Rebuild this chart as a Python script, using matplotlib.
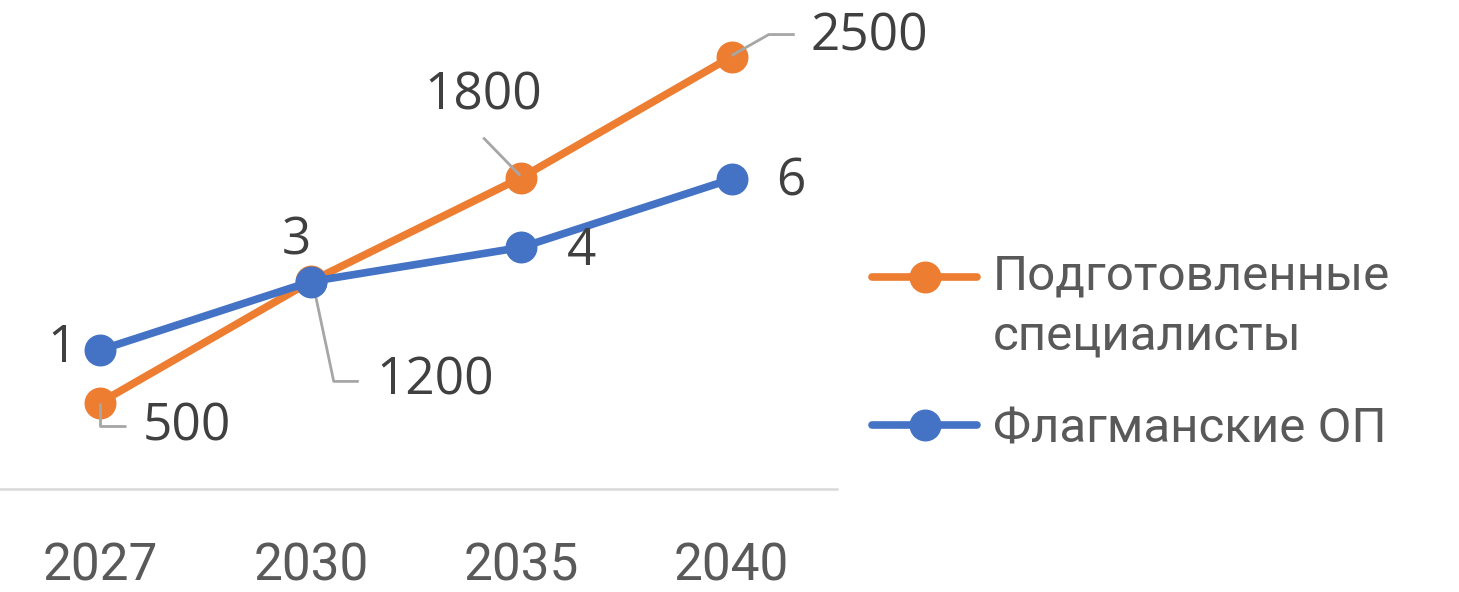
import numpy as np
import matplotlib
matplotlib.use("Agg")
import matplotlib.pyplot as plt
import matplotlib.transforms as mtransforms
from matplotlib.legend_handler import HandlerLine2D
from matplotlib.lines import Line2D

years = ["2027", "2030", "2035", "2040"]
specialists = [500, 1200, 1800, 2500]
flagships = [1, 3, 4, 6]
series_names = ["Подготовленные\nспециалисты", "Флагманские ОП"]

ORANGE = "#ED7D31"
BLUE = "#4472C4"
LABEL = "#404040"
TICK = "#595959"
LEADER = "#A6A6A6"

W, H, DPI = 1459, 592, 100


class FirstLineHandler(HandlerLine2D):
    """Legend handle aligned with the first line of a multi-line label."""

    def __init__(self, shift=0.0, **kw):
        super().__init__(**kw)
        self.shift = shift

    def create_artists(self, legend, orig_handle, xdescent, ydescent,
                       width, height, fontsize, trans):
        arts = super().create_artists(legend, orig_handle, xdescent, ydescent,
                                      width, height, fontsize, trans)
        for a in arts:
            a.set_ydata(np.asarray(a.get_ydata()) + self.shift)
        return arts


fig = plt.figure(figsize=(W / DPI, H / DPI), dpi=DPI)

# axes box in pixels
x0, x1 = -5, 837
y_bot, y_top = 489, 10
ax = fig.add_axes([x0 / W, (H - y_bot) / H, (x1 - x0) / W, (y_bot - y_top) / H])
ax2 = ax.twinx()

x = np.arange(len(years))
ax.set_xlim(-0.5, len(years) - 0.5)
ax.set_ylim(0, 2769)
ax2.set_ylim(-3.064, 10.94)

l1, = ax.plot(x, specialists, color=ORANGE, lw=5.5, marker="o", ms=22,
              solid_capstyle="round", label=series_names[0], zorder=3)
l2, = ax2.plot(x, flagships, color=BLUE, lw=5.5, marker="o", ms=22,
               solid_capstyle="round", label=series_names[1], zorder=3)

for a in (ax, ax2):
    for s in a.spines.values():
        s.set_visible(False)
    a.set_yticks([])
    a.patch.set_visible(False)
ax.spines["bottom"].set_visible(True)
ax.spines["bottom"].set_color("#D9D9D9")
ax.spines["bottom"].set_linewidth(1.8)

ax.set_xticks(x, years)
ax.tick_params(axis="x", length=0, pad=38, labelsize=37, labelcolor=TICK)
for t in ax.get_xticklabels():
    t.set_fontfamily("Roboto")
ax2.tick_params(axis="x", length=0)


def px_trans(axes, xv, yv):
    """Transform whose units are pixel offsets from a data point."""
    return mtransforms.Affine2D() + mtransforms.ScaledTranslation(xv, yv, axes.transData)


label_font = dict(fontfamily="Open Sans", fontsize=37, color=LABEL)

# orange labels: text offset and leader polyline (pixel offsets, y up)
orange_layout = [
    ((87, -24), [(0, 0), (0, -23), (26, -23)]),
    ((124, -100), [(2, -1), (23, -100), (48, -100)]),
    ((-38, 82), [(-1, 2), (-38, 40)]),
    ((138, 20), [(0, 1), (37, 22), (63, 22)]),
]
for xi, val, ((dx, dy), leader) in zip(x, specialists, orange_layout):
    tr = px_trans(ax, xi, val)
    lx, ly = zip(*leader)
    ax.add_line(Line2D(lx, ly, transform=tr, color=LEADER, lw=2, zorder=5,
                       solid_capstyle="butt"))
    ax.text(dx, dy, f"{val}", transform=tr, ha="center", va="center",
            zorder=6, **label_font)

blue_offsets = [(-38, 1), (-14, 41), (60, -4), (59, -3)]
for xi, val, (dx, dy) in zip(x, flagships, blue_offsets):
    tr = px_trans(ax2, xi, val)
    ax2.text(dx, dy, f"{val}", transform=tr, ha="center", va="center",
             zorder=6, **label_font)

leg = fig.legend(
    [l1, l2], series_names,
    loc="center left", bbox_to_anchor=(872 / W, (H - 353) / H),
    frameon=False, borderpad=0, borderaxespad=0,
    prop=dict(family="Roboto", size=35.5), labelcolor=TICK,
    handlelength=2.13, handletextpad=0.32, labelspacing=0.95,
    handler_map={l1: FirstLineHandler(shift=21.6), l2: HandlerLine2D()},
)
for t in leg.get_texts():
    t.set_linespacing(1.38)

fig.savefig("out.png", dpi=DPI)
